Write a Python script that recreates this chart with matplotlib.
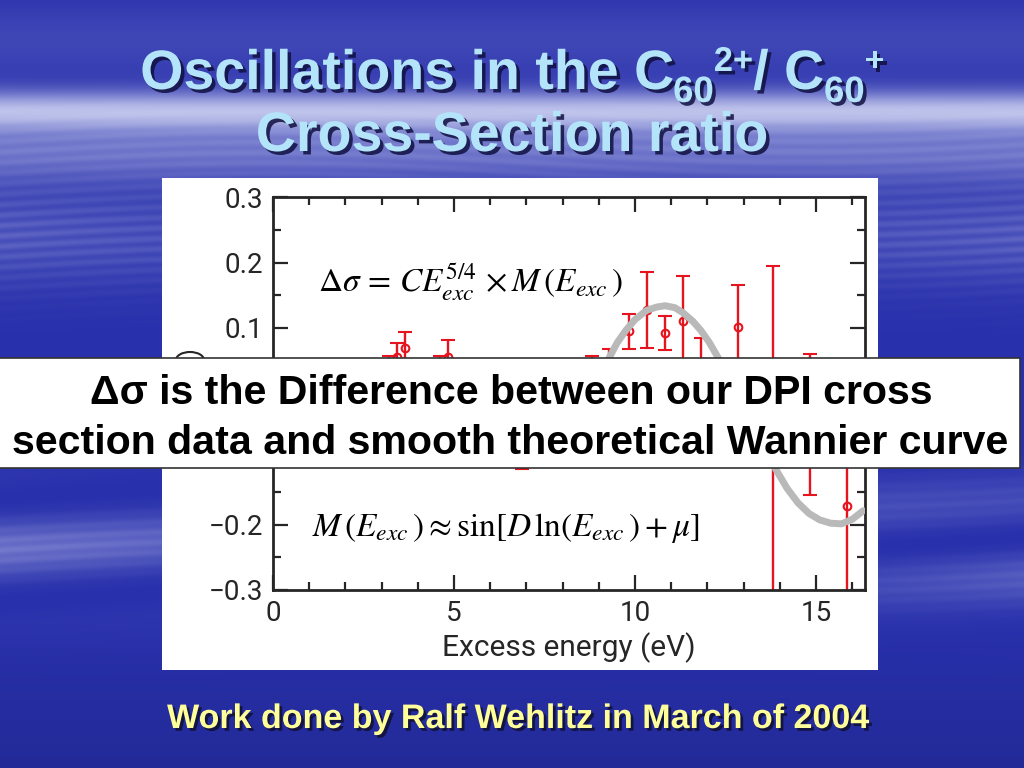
import numpy as np
import matplotlib
matplotlib.use("Agg")
import matplotlib.pyplot as plt
import matplotlib.patheffects as pe
from matplotlib.patches import Rectangle, Arc
from matplotlib.ticker import MultipleLocator, FixedLocator, FixedFormatter

# ---------------- data ----------------
energy = [3.2, 3.43, 3.64, 4.62, 4.84, 6.87, 8.82, 9.28, 9.83, 10.32, 10.83,
          11.33, 11.82, 12.83, 13.82, 14.82, 15.85]
delta_sigma = [0.035, 0.056, 0.070, 0.035, 0.056, -0.080, 0.030, 0.040, 0.095,
               0.128, 0.093, 0.110, 0.020, 0.101, -0.060, -0.047, -0.172]
delta_err = [0.022, 0.021, 0.024, 0.022, 0.025, 0.035, 0.027, 0.028, 0.027,
             0.058, 0.026, 0.070, 0.065, 0.065, 0.255, 0.108, 0.150]

fit_energy = [9.28, 9.5, 9.74, 10.0, 10.32, 10.6, 10.83, 11.1, 11.33, 11.6,
              11.82, 12.05, 12.3, 12.8, 13.3, 13.9, 14.2, 14.5, 14.8, 15.1,
              15.4, 15.7, 16.0, 16.3]
fit_sigma = [0.054, 0.077, 0.096, 0.113, 0.127, 0.132, 0.134, 0.131, 0.123,
             0.110, 0.096, 0.078, 0.054, 0.0, -0.06, -0.117, -0.145, -0.167,
             -0.183, -0.193, -0.198, -0.199, -0.192, -0.179]

xticks = [0, 5, 10, 15]
xtick_labels = ["0", "5", "10", "15"]
yticks = [-0.3, -0.2, -0.1, 0.0, 0.1, 0.2, 0.3]
# the -0.1 and 0 labels are hidden behind the overlay box in the original
ytick_labels = ["\u22120.3", "\u22120.2", "", "", "0.1", "0.2", "0.3"]

# title pieces: (text, relative size, baseline shift in px)
title_pieces = [("Oscillations in the C", 1.0, 0), ("60", 0.66, -13),
                ("2+", 0.62, 18), ("/ C", 1.0, 0), ("60", 0.66, -13),
                ("+", 0.62, 18)]
title_line2 = "Cross-Section ratio"
box_line1 = "\u0394\u03c3 is the Difference between our DPI cross"
box_line2 = "section data and smooth theoretical Wannier curve"
footer = "Work done by Ralf Wehlitz in March of 2004"

# ---------------- figure ----------------
W, H = 1024, 768
fig = plt.figure(figsize=(W / 100, H / 100), dpi=100)


def fx(x):
    return x / W


def fy(y):
    return 1 - y / H


# background (decorative sky texture)
bg = fig.add_axes([0, 0, 1, 1], zorder=-10)
yy, xx = np.mgrid[0:H, 0:W].astype(float)
edge = 0.45 + 0.55 * (np.abs(xx - W / 2) / (W / 2)) ** 1.2
streak = 0.6 + 0.4 * np.sin(yy * 0.30 + 3.0 * np.sin(xx / 170.0)) ** 2
streak2 = 0.5 + 0.5 * np.sin(yy * 0.06 + xx / 260.0)
L = np.zeros((H, W))
L += 0.70 * np.exp(-((yy - 110) / 20) ** 2)
L += 0.40 * np.exp(-((yy - 150) / 32) ** 2) * (0.65 + 0.35 * streak)
L += 0.28 * np.exp(-((yy - 235) / 50) ** 2) * edge * streak
L += 0.40 * np.exp(-((yy - 545) / 55) ** 2) * edge * streak2 * (0.55 + 0.45 * streak)
L += 0.12 * np.exp(-((yy - 40) / 40) ** 2)
L = np.clip(L, 0, 1)
dark = np.array([40, 48, 172]) / 255
light = np.array([230, 234, 252]) / 255
img = dark[None, None, :] + (light - dark)[None, None, :] * L[..., None]
bottom = np.clip((yy - 620) / 148, 0, 1)[..., None]
img = img * (1 - 0.12 * bottom)
bg.imshow(np.clip(img, 0, 1), aspect="auto", extent=[0, W, H, 0])
bg.set_axis_off()

# white chart panel
fig.add_artist(Rectangle((fx(162), fy(670)), fx(878) - fx(162), fy(178) - fy(670),
                         transform=fig.transFigure, facecolor="white",
                         edgecolor="none", zorder=-5))

axfont = ["Roboto", "DejaVu Sans"]
ink = "#262626"
ax = fig.add_axes([fx(273), fy(590), fx(865) - fx(273), fy(197) - fy(590)])
ax.set_facecolor("white")
ax.set_xlim(0, 16.35)
ax.set_ylim(-0.3, 0.3)

ax.plot(fit_energy, fit_sigma, color="#b9b9b9", lw=5, solid_capstyle="round", zorder=3)
ax.errorbar(energy, delta_sigma, yerr=delta_err, fmt="o", color="#e5141e",
            ecolor="#e5141e", elinewidth=1.7, capsize=5, capthick=1.7,
            ms=5.5, mfc="none", mew=1.5, zorder=2)

ax.xaxis.set_major_locator(FixedLocator(xticks))
ax.xaxis.set_major_formatter(FixedFormatter(xtick_labels))
ax.xaxis.set_minor_locator(MultipleLocator(1))
ax.yaxis.set_major_locator(FixedLocator(yticks))
ax.yaxis.set_major_formatter(FixedFormatter(ytick_labels))
ax.yaxis.set_minor_locator(MultipleLocator(0.05))
ax.tick_params(which="both", direction="in", top=True, right=True, width=1.6,
               colors=ink)
ax.tick_params(which="major", length=11, pad=7)
ax.tick_params(which="minor", length=6)
for lab in ax.get_xticklabels() + ax.get_yticklabels():
    lab.set_family(axfont)
    lab.set_fontsize(20)
for s in ax.spines.values():
    s.set_linewidth(2)
    s.set_color(ink)
ax.set_xlabel("Excess energy (eV)", family=axfont, fontsize=21.5,
              color=ink, labelpad=4)

ax.text(0.076, 0.781, r"$\Delta\sigma\,=\,CE_{exc}^{5/4}\,\times M\,(E_{exc}\,)$",
        transform=ax.transAxes, fontsize=24, va="center", ha="left",
        math_fontfamily="stix", color="black")
ax.text(0.066, 0.158,
        r"$M\,(E_{exc}\,)\approx \mathrm{sin}[D\,\mathrm{ln}(E_{exc}\,)+\mu]$",
        transform=ax.transAxes, fontsize=24, va="center", ha="left",
        math_fontfamily="stix", color="black")

# the top edge of the (hidden) y-axis label that peeks above the overlay box
fig.add_artist(Arc((fx(190), fy(360)), fx(28), 16 / H, theta1=0, theta2=180,
                   transform=fig.transFigure, color=ink, lw=1.5, zorder=1))

# overlay box
fig.add_artist(Rectangle((fx(-2), fy(468)), fx(1020) - fx(-2), fy(358) - fy(468),
                         transform=fig.transFigure, facecolor="white",
                         edgecolor="#333333", lw=1.2, zorder=5))
boxfont = ["Liberation Sans", "DejaVu Sans"]
fig.text(fx(511.5), fy(404), box_line1, ha="center", va="baseline", fontsize=29.6,
         fontweight="bold", family=boxfont, zorder=6)
fig.text(fx(510), fy(454), box_line2, ha="center", va="baseline", fontsize=29.6,
         fontweight="bold", family=boxfont, zorder=6)

title_color = "#b4e4fa"
shadow = [pe.SimplePatchShadow(offset=(2.5, -2.5), shadow_rgbFace="#101040", alpha=0.85),
          pe.Normal()]

# title line 1 built from pieces (subscripts / superscripts)
renderer = fig.canvas.get_renderer()
title_size = 40
pieces = []
total = 0.0
for txt, rel, shift in title_pieces:
    t = fig.text(0, 0, txt, fontsize=title_size * rel, fontweight="bold",
                 family="Liberation Sans", color=title_color, va="baseline",
                 ha="left", path_effects=shadow, zorder=6)
    w = t.get_window_extent(renderer).width
    pieces.append((t, w, shift))
    total += w
x0 = 512.5 - total / 2
base1 = 89
for t, w, shift in pieces:
    t.set_position((fx(x0), fy(base1 - shift)))
    x0 += w

fig.text(fx(511.5), fy(151), title_line2, ha="center", va="baseline", fontsize=title_size,
         fontweight="bold", family="Liberation Sans", color=title_color,
         path_effects=shadow, zorder=6)
fig.text(fx(518), fy(728), footer, ha="center", va="baseline", fontsize=24.5,
         fontweight="bold", family="Liberation Sans", color="#ffff99",
         path_effects=[pe.SimplePatchShadow(offset=(2, -2), shadow_rgbFace="#101030",
                                            alpha=0.85), pe.Normal()], zorder=6)

fig.savefig("out.png", dpi=100)
